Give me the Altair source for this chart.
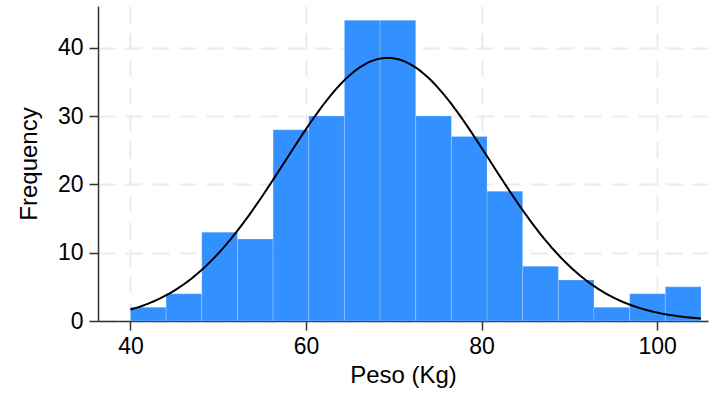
import altair as alt
import pandas as pd
import numpy as np

# Histogram of Peso (Kg): 16 bins from 40 to 105
bin_edges = [40.0, 44.0625, 48.125, 52.1875, 56.25, 60.3125, 64.375, 68.4375, 72.5,
             76.5625, 80.625, 84.6875, 88.75, 92.8125, 96.875, 100.9375, 105.0]
counts = [2, 4, 13, 12, 28, 30, 44, 44, 30, 27, 19, 8, 6, 2, 4, 5]

# fitted normal curve parameters
fit_mean = 69.3
fit_sd = 11.7
n_total = sum(counts)
bin_width = (bin_edges[-1] - bin_edges[0]) / len(counts)

bars = pd.DataFrame({
    "start": bin_edges[:-1],
    "end": bin_edges[1:],
    "count": counts,
})

xs = np.linspace(bin_edges[0], bin_edges[-1], 200)
curve = pd.DataFrame({
    "x": xs,
    "y": n_total * bin_width / (fit_sd * np.sqrt(2 * np.pi)) * np.exp(-0.5 * ((xs - fit_mean) / fit_sd) ** 2),
})

xscale = alt.Scale(domain=[36.3, 105.8], nice=False, zero=False)
yscale = alt.Scale(domain=[0, 46.1], nice=False)

FONT = "Liberation Sans"
LFS = 23
TFS = 24

xaxis = alt.Axis(title="Peso (Kg)", values=[40, 60, 80, 100], format="d",
                 grid=True, gridDash=[17, 10], gridColor="#ebebeb", gridWidth=2,
                 domainColor="#333333", domainWidth=1.5, tickColor="#333333",
                 tickWidth=1.5, tickSize=9, labelFontSize=LFS, titleFontSize=TFS,
                 labelFont=FONT, titleFont=FONT, labelColor="#000000",
                 titleColor="#000000", titleFontWeight="normal", labelPadding=5,
                 titlePadding=5)
yaxis = alt.Axis(title="Frequency", values=[0, 10, 20, 30, 40], format="d",
                 grid=True, gridDash=[17, 10], gridColor="#ebebeb", gridWidth=2,
                 domainColor="#333333", domainWidth=1.5, tickColor="#333333",
                 tickWidth=1.5, tickSize=9, labelFontSize=LFS, titleFontSize=TFS,
                 labelFont=FONT, titleFont=FONT, labelColor="#000000",
                 titleColor="#000000", titleFontWeight="normal", labelPadding=6,
                 titlePadding=16)

hist = alt.Chart(bars).mark_rect(color="#3390FF", stroke="#ffffff", strokeOpacity=0.2,
                                 strokeWidth=1).encode(
    x=alt.X("start:Q", scale=xscale, axis=xaxis),
    x2="end:Q",
    y=alt.Y("count:Q", scale=yscale, axis=yaxis),
    y2=alt.datum(0),
)

line = alt.Chart(curve).mark_line(color="#000000", strokeWidth=2).encode(
    x=alt.X("x:Q", scale=xscale),
    y=alt.Y("y:Q", scale=yscale),
)

chart = alt.layer(hist, line).properties(
    width=610, height=315,
    autosize=alt.AutoSizeParams(type="none"),
    padding={"left": 98, "top": 6, "right": 10, "bottom": 77},
    background="white",
).configure_view(stroke=None)

chart.save("out.html", embed_options={"renderer": "svg", "actions": False})
